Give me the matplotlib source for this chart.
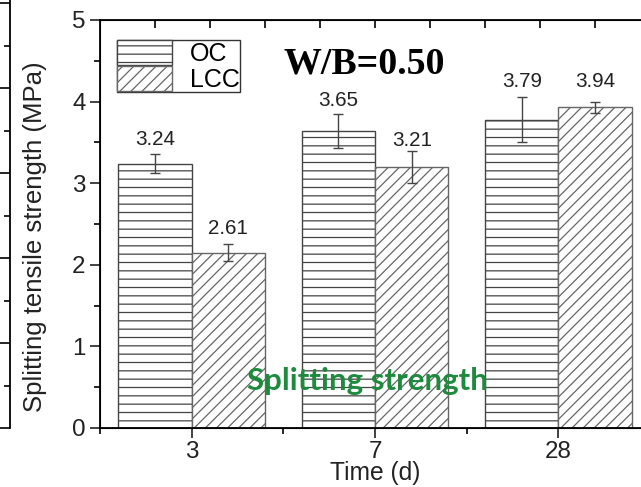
import numpy as np
import matplotlib.pyplot as plt
from matplotlib.ticker import MultipleLocator

plt.rcParams['font.family'] = ['Liberation Sans', 'DejaVu Sans']
plt.rcParams['hatch.linewidth'] = 0.9

# data
days = ['3', '7', '28']
oc = [3.24, 3.64, 3.78]
lcc = [2.15, 3.20, 3.93]
oc_err = [0.12, 0.21, 0.28]
lcc_err = [0.10, 0.20, 0.07]
oc_text = ['3.24', '3.65', '3.79']
lcc_text = ['2.61', '3.21', '3.94']

fig = plt.figure(figsize=(6.41, 4.87), dpi=100)

# edge of the neighbouring panel on the left
side = fig.add_axes([-0.5, 1 - 428 / 487, 0.5 + 10 / 641, 428 / 487])
side.set_ylim(0, 428 / 85)
side.set_xlim(0, 1)
for s in ['left', 'top', 'bottom']:
    side.spines[s].set_visible(False)
side.spines['right'].set_linewidth(1.3)
side.set_xticks([])
side.yaxis.tick_right()
side.yaxis.set_major_locator(MultipleLocator(1))
side.yaxis.set_minor_locator(MultipleLocator(0.5))
side.tick_params(axis='y', which='major', direction='in', length=7, width=1.2, labelright=False)
side.tick_params(axis='y', which='minor', direction='in', length=4, width=1.2)

ax = fig.add_axes([100 / 641, 1 - 428 / 487, 550 / 641, 408 / 487])
x = np.arange(1, len(days) + 1)
w = 0.4
ax.bar(x - w / 2, oc, w, color='white', edgecolor='#444444', hatch='--',
       linewidth=1.0, label='OC')
ax.bar(x + w / 2, lcc, w, color='white', edgecolor='#666666', hatch='///',
       linewidth=1.0, label='LCC')
ax.errorbar(x - w / 2, oc, yerr=oc_err, fmt='none', ecolor='#444444', elinewidth=1,
            capsize=3.5, capthick=1)
ax.errorbar(x + w / 2, lcc, yerr=lcc_err, fmt='none', ecolor='#444444', elinewidth=1,
            capsize=3.5, capthick=1)

oc_pad = [6, 5.3, 7]
lcc_pad = [7.2, 3.6, 10.6]
for i in range(len(days)):
    ax.annotate(oc_text[i], (x[i] - w / 2, oc[i] + oc_err[i]), xytext=(0, oc_pad[i]),
                textcoords='offset points', ha='center', va='baseline', fontsize=14.9, color='#222222')
    ax.annotate(lcc_text[i], (x[i] + w / 2, lcc[i] + lcc_err[i]), xytext=(0, lcc_pad[i]),
                textcoords='offset points', ha='center', va='baseline', fontsize=14.9, color='#222222')

ax.set_xlim(0.5, 3.5)
ax.set_ylim(0, 5)
ax.set_xticks(x)
ax.set_xticklabels(days)
ax.xaxis.set_minor_locator(MultipleLocator(0.5))
ax.yaxis.set_major_locator(MultipleLocator(1))
ax.yaxis.set_minor_locator(MultipleLocator(0.5))
ax.tick_params(axis='both', which='major', direction='out', length=7, width=1.2,
               labelsize=17.4, colors='#222222')
ax.tick_params(axis='both', which='minor', direction='out', length=4, width=1.2)
ax.tick_params(axis='x', which='major', pad=2)
for s in ax.spines.values():
    s.set_linewidth(1.3)
ax.spines['right'].set_visible(False)

top = ax.twiny()
top.set_xlim(0, 10)
top.set_xticks(np.arange(1, 10))
top.tick_params(axis='x', direction='in', length=6, width=1.2, labeltop=False)
top.spines['right'].set_visible(False)

ax.set_ylabel('Splitting tensile strength (MPa)', fontsize=18.5, color='#222222', va='center')
ax.yaxis.set_label_coords(-65 / 550, (428 - 237) / 408)
ax.set_xlabel('Time (d)', fontsize=17.7, color='#222222', labelpad=-1)

leg = ax.legend(loc='upper left', bbox_to_anchor=(17 / 550, 388 / 408), fontsize=18,
                frameon=True, fancybox=False, edgecolor='black', borderpad=0,
                labelspacing=0, handlelength=2.2, handleheight=1.16, handletextpad=0.72,
                borderaxespad=0)
leg.get_frame().set_linewidth(1.0)

ax.text(0.48, 0.870, 'W/B=0.50', transform=ax.transAxes, ha='center', va='baseline',
        fontsize=27.3, fontweight='bold', family='Liberation Serif', color='black')
ax.text(0.487, 0.093, 'Splitting strength', transform=ax.transAxes, ha='center', va='baseline',
        fontsize=22.5, fontweight='bold', family='Lato', color='#1e8a3e')

fig.savefig('out.png', dpi=100)
